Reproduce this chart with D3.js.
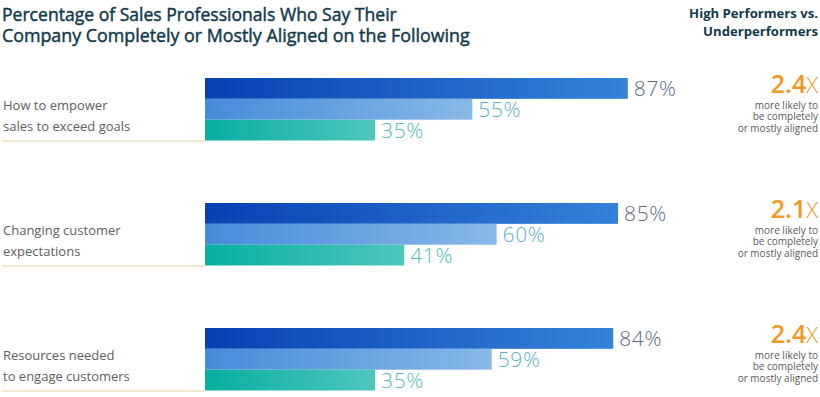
<!DOCTYPE html>
<html><head><meta charset="utf-8">
<script src="https://cdn.jsdelivr.net/npm/d3@7"></script>
<style>html,body{margin:0;padding:0;background:#fff;} svg{display:block;}</style>
</head><body>
<script>
const titleLines = ["Percentage of Sales Professionals Who Say Their", "Company Completely or Mostly Aligned on the Following"];
const sideTitle = ["High Performers vs.", "Underperformers"];
const categories = ["How to empower|sales to exceed goals", "Changing customer|expectations", "Resources needed|to engage customers"];
const seriesNames = ["High performers", "Average performers", "Underperformers"];
const highPerformers = [87, 85, 84];
const averagePerformers = [55, 60, 59];
const underperformers = [35, 41, 35];
const multipliers = ["2.4", "2.1", "2.4"];
const multiplierText = ["more likely to", "be completely", "or mostly aligned"];

const W = 820, H = 397;
const svg = d3.select("body").append("svg").attr("width", W).attr("height", H);
const defs = svg.append("defs");
const grads = [["#0741b3", "#3582d9"], ["#468bd9", "#88b8e7"], ["#07aea2", "#4fc6bd"]];
const labelColors = ["#5d6a80", "#5aaecb", "#4dbdb3"];
grads.forEach((g, i) => {
  const lg = defs.append("linearGradient").attr("id", "g" + i).attr("x1", "0").attr("x2", "1").attr("y1", "0").attr("y2", "0");
  lg.append("stop").attr("offset", "0").attr("stop-color", g[0]);
  lg.append("stop").attr("offset", "1").attr("stop-color", g[1]);
});

const font = "'Open Sans', sans-serif";
const titleColor = "#113a4b";

function fitText(sel, target) {
  const len = sel.node().getComputedTextLength();
  const fs = parseFloat(sel.attr("font-size"));
  sel.attr("font-size", (fs * target / len).toFixed(2));
}

// Title
titleLines.forEach((s, i) => {
  const t = svg.append("text").attr("x", 2).attr("y", 21 + i * 21).attr("font-family", font).attr("font-size", 17)
    .attr("fill", titleColor).attr("stroke", titleColor).attr("stroke-width", 0.45).text(s);
  fitText(t, i === 0 ? 395 : 468);
});

// Side title
sideTitle.forEach((s, i) => {
  const t = svg.append("text").attr("x", 818).attr("y", 18 + i * 18).attr("text-anchor", "end")
    .attr("font-family", font).attr("font-weight", 700).attr("font-size", 13).attr("fill", titleColor).text(s);
  fitText(t, i === 0 ? 129 : 115);
});

const x = d3.scaleLinear().domain([0, 100]).range([205, 691]);
const y = d3.scalePoint().domain(categories).range([78, 328]);
const inner = d3.scaleBand().domain(seriesNames).range([0, 62.5]);
const seriesValues = [highPerformers, averagePerformers, underperformers];

categories.forEach((cat, ci) => {
  const g = svg.append("g").attr("transform", `translate(0,${y(cat)})`);
  // baseline rule
  g.append("line").attr("x1", 2).attr("x2", x(0)).attr("y1", inner.range()[1] + 0.5).attr("y2", inner.range()[1] + 0.5)
    .attr("stroke", "#f0dfbf").attr("stroke-width", 1.5);
  // category label
  cat.split("|").forEach((line, li) => {
    g.append("text").attr("x", 3).attr("y", 32 + li * 20.5).attr("font-family", font).attr("font-size", 13)
      .attr("fill", "#606060").text(line);
  });
  seriesNames.forEach((sn, si) => {
    const v = seriesValues[si][ci];
    g.append("rect").attr("x", x(0)).attr("y", inner(sn)).attr("width", x(v) - x(0)).attr("height", inner.bandwidth())
      .attr("fill", `url(#g${si})`);
    g.append("text").attr("x", x(v) + 6).attr("y", inner(sn) + inner.bandwidth() - 2.5)
      .attr("font-family", font).attr("font-weight", 300).attr("font-size", 21).attr("letter-spacing", 0.6)
      .attr("fill", labelColors[si]).text(v + "%");
  });
  // multiplier
  const m = g.append("text").attr("x", 818).attr("y", 14.5).attr("text-anchor", "end").attr("font-family", font).attr("fill", "#f0981f");
  m.append("tspan").attr("font-size", 25).attr("font-weight", 600).text(multipliers[ci]);
  m.append("tspan").attr("font-size", 22).attr("font-weight", 300).text("X");
  multiplierText.forEach((s, li) => {
    g.append("text").attr("x", 818).attr("y", 30.5 + li * 11.7).attr("text-anchor", "end").attr("font-family", font)
      .attr("font-size", 10).attr("fill", "#5a5a5a").text(s);
  });
});
</script>
</body></html>
